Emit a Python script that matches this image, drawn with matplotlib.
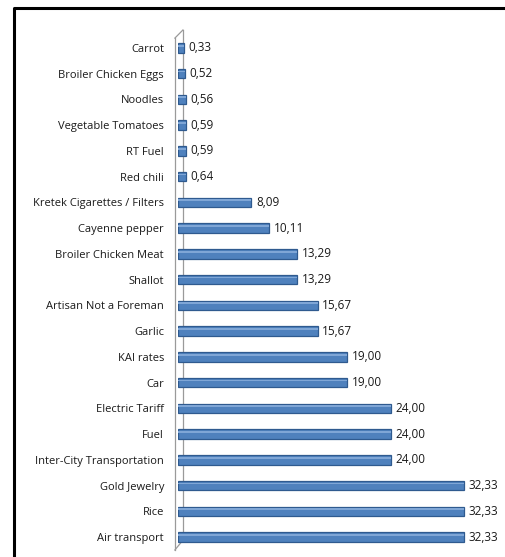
import matplotlib
matplotlib.use("Agg")
from matplotlib import pyplot as plt
from matplotlib.lines import Line2D

categories = ["Carrot", "Broiler Chicken Eggs", "Noodles", "Vegetable Tomatoes",
              "RT Fuel", "Red chili", "Kretek Cigarettes / Filters", "Cayenne pepper",
              "Broiler Chicken Meat", "Shallot", "Artisan Not a Foreman", "Garlic",
              "KAI rates", "Car", "Electric Tariff", "Fuel",
              "Inter-City Transportation", "Gold Jewelry", "Rice", "Air transport"]
values = [0.33, 0.52, 0.56, 0.59, 0.59, 0.64, 8.09, 10.11, 13.29, 13.29,
          15.67, 15.67, 19.00, 19.00, 24.00, 24.00, 24.00, 32.33, 32.33, 32.33]

DEPTH = 0.28  # 3D bars start a little behind the zero line

W, H = 506, 557
fig = plt.figure(figsize=(W / 100, H / 100), dpi=100)
plt.rcParams['font.family'] = ['Open Sans', 'DejaVu Sans']

# outer frame (cropped on right and bottom)
fig.add_artist(Line2D([14 / W, 14 / W, 1.0], [0.0, 1 - 8 / H, 1 - 8 / H],
                      color='black', lw=2.2, transform=fig.transFigure))

left, right = 178 / W, 496 / W
top, bottom = 1 - 35 / H, 1 - 550 / H
ax = fig.add_axes([left, bottom, right - left, top - bottom])

pos = list(range(len(categories)))
widths = [v + DEPTH for v in values]
ax.barh(pos, widths, left=-DEPTH, height=0.37, color='#4F81BD',
        edgecolor='#2F5A8F', lw=0.9, zorder=3)
# light highlight along the top of each bar
ax.barh([p - 0.08 for p in pos], widths, left=-DEPTH, height=0.07,
        color='#7FA6D6', lw=0, zorder=4)
for p, v in zip(pos, values):
    ax.text(v + 0.5, p, f"{v:.2f}".replace('.', ','), va='center', ha='left',
            fontsize=8.5, color='#1a1a1a')

ax.set_ylim(len(categories) - 0.5, -0.5)
ax.set_xlim(-0.3, 36)
ax.set_yticks(pos)
ax.set_yticklabels(categories, fontsize=8, color='#1a1a1a')
ax.tick_params(axis='y', length=0, pad=10)
ax.set_xticks([])
for s in ['top', 'right', 'bottom', 'left']:
    ax.spines[s].set_visible(False)

# 3D-style axis wall
wall = dict(color='#9a9a9a', lw=0.9, transform=ax.transAxes, clip_on=False, zorder=2)
x0, x1 = -0.0098, 0.0154
ax.add_line(Line2D([x0, x0], [0.0, 0.994], **wall))
ax.add_line(Line2D([x1, x1], [0.019, 1.0097], **wall))
ax.add_line(Line2D([x0, x1], [0.994, 1.0097], **wall))
ax.add_line(Line2D([x0, x1], [0.0, 0.019], **wall))

fig.savefig("out.png", dpi=100)
